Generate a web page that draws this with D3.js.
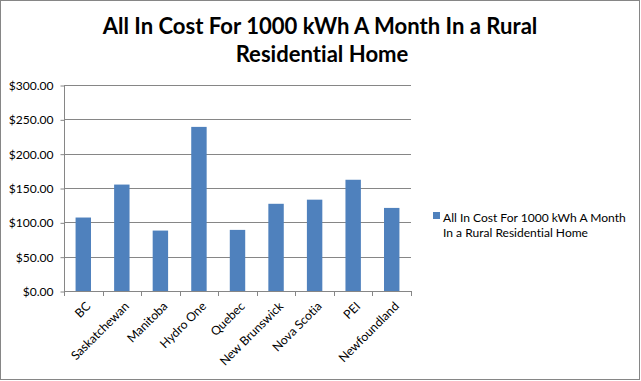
<!DOCTYPE html>
<html>
<head>
<meta charset="utf-8">
<script src="https://cdn.jsdelivr.net/npm/d3@7"></script>
<style>
  body { margin: 0; background: #fff; }
  svg { display: block; font-family: Lato, "Open Sans", sans-serif; font-variant-ligatures: none; }
</style>
</head>
<body>
<div id="main"></div>
<script>
const provinces = ["BC", "Saskatchewan", "Manitoba", "Hydro One", "Quebec",
  "New Brunswick", "Nova Scotia", "PEI", "Newfoundland"];
const costs = [107, 155, 88, 239, 89, 127, 133, 162, 121];
const yTicks = [0, 50, 100, 150, 200, 250, 300];
const titleLines = ["All In Cost For 1000 kWh A Month In a Rural", "Residential Home"];
const legendLines = ["All In Cost For 1000 kWh A Month", "In a Rural Residential Home"];

const W = 641, H = 381;
const plot = {left: 64, right: 411, top: 85, bottom: 291};
const barColor = "#4f81bd";
const gridColor = "#868686";

const svg = d3.select("#main").append("svg")
  .attr("width", W).attr("height", H);

// outer frame
svg.append("rect")
  .attr("x", 0.5).attr("y", 0.5)
  .attr("width", W - 2).attr("height", H - 2)
  .attr("fill", "#fff").attr("stroke", gridColor);

// shrink/grow the font so a line hits a given width
function fitWidth(sel, target) {
  const node = sel.node();
  const fs = parseFloat(sel.attr("font-size"));
  const w = node.getComputedTextLength();
  sel.attr("font-size", (fs * target / w).toFixed(2));
}

const title = svg.append("g").attr("font-weight", "bold").attr("text-anchor", "middle");
const t1 = title.append("text").attr("x", 320).attr("y", 34).attr("font-size", 22).text(titleLines[0]);
fitWidth(t1, 435);
title.append("text").attr("x", 322).attr("y", 62).attr("font-size", t1.attr("font-size")).text(titleLines[1]);

// legend first, its width sets the small text size
const lg = svg.append("g");
lg.append("rect").attr("x", 433).attr("y", 212).attr("width", 7).attr("height", 7).attr("fill", barColor);
const lt = lg.selectAll("text")
  .data(legendLines)
  .join("text")
  .attr("x", 443)
  .attr("y", (d, i) => 222 + i * 15)
  .attr("font-size", 13)
  .text(d => d);
fitWidth(lt.filter((d, i) => i === 0), 183);
const small = +lt.filter((d, i) => i === 0).attr("font-size");
lt.attr("font-size", small);

const x = d3.scaleBand().domain(provinces).range([plot.left, plot.right]).padding(0);
const y = d3.scaleLinear().domain([0, 300]).range([plot.bottom, plot.top]);

// gridlines
svg.append("g")
  .selectAll("line")
  .data(yTicks.filter(d => d > 0))
  .join("line")
  .attr("x1", plot.left).attr("x2", plot.right)
  .attr("y1", d => Math.round(y(d)) + 0.5).attr("y2", d => Math.round(y(d)) + 0.5)
  .attr("stroke", gridColor);

// y axis
const yAxis = d3.axisLeft(y).tickValues(yTicks).tickSize(4).tickPadding(7)
  .tickFormat(d => "$" + d3.format(".2f")(d));
svg.append("g")
  .attr("transform", `translate(${plot.left + 0.5},0.5)`)
  .call(yAxis)
  .call(g => g.select(".domain").attr("stroke", gridColor).attr("d", `M0,${plot.top}V${plot.bottom}`))
  .call(g => g.selectAll(".tick line").attr("stroke", gridColor))
  .call(g => g.selectAll(".tick text").attr("font-size", small).attr("fill", "#000")
    .attr("font-family", "Lato, sans-serif"));

// bars
const bw = x.bandwidth() * 0.4;
svg.append("g")
  .selectAll("rect")
  .data(provinces)
  .join("rect")
  .attr("x", (d) => x(d) + (x.bandwidth() - bw) / 2)
  .attr("width", bw)
  .attr("y", (d, i) => y(costs[i]))
  .attr("height", (d, i) => y(0) - y(costs[i]))
  .attr("fill", barColor);

// x axis baseline and category ticks
const xa = svg.append("g");
xa.append("line")
  .attr("x1", plot.left).attr("x2", plot.right + 1)
  .attr("y1", plot.bottom + 0.5).attr("y2", plot.bottom + 0.5)
  .attr("stroke", gridColor);
xa.selectAll("line.tk")
  .data(provinces.map(d => x(d)).concat([plot.right]))
  .join("line")
  .attr("class", "tk")
  .attr("x1", d => Math.round(d) + 0.5).attr("x2", d => Math.round(d) + 0.5)
  .attr("y1", plot.bottom).attr("y2", plot.bottom + 5)
  .attr("stroke", gridColor);

const xl = xa.selectAll("text")
  .data(provinces)
  .join("text")
  .attr("transform", d => `translate(${x(d) + x.bandwidth() / 2 + 5},${plot.bottom + 13}) rotate(-45)`)
  .attr("text-anchor", "end")
  .attr("dy", "0.35em")
  .attr("font-size", 13)
  .text(d => d);
const sask = xl.filter(d => d === "Saskatchewan");
fitWidth(sask, 76);
xl.attr("font-size", sask.attr("font-size"));
</script>
</body>
</html>
